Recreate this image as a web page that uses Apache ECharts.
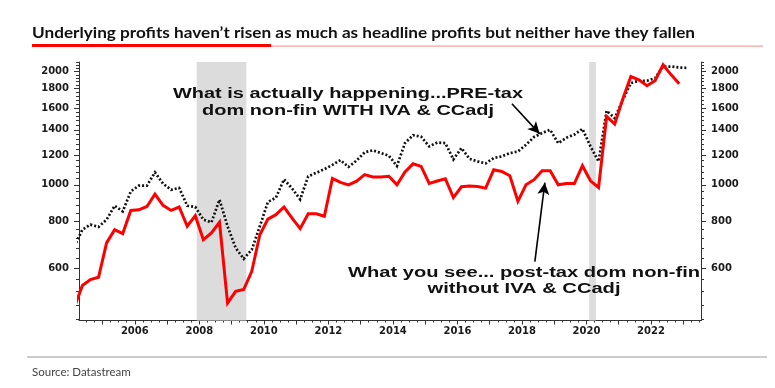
<!DOCTYPE html>
<html>
<head>
<meta charset="utf-8">
<script src="https://cdn.jsdelivr.net/npm/echarts@6.0.0/dist/echarts.min.js"></script>
<style>
html,body{margin:0;padding:0;background:#fff;}
#chart{width:775px;height:388px;}
</style>
</head>
<body>
<div id="chart"></div>
<script>
// ---------------- DATA ----------------
const quarters = [
  '2004Q1','2004Q2','2004Q3','2004Q4','2005Q1','2005Q2','2005Q3','2005Q4',
  '2006Q1','2006Q2','2006Q3','2006Q4','2007Q1','2007Q2','2007Q3','2007Q4',
  '2008Q1','2008Q2','2008Q3','2008Q4','2009Q1','2009Q2','2009Q3','2009Q4',
  '2010Q1','2010Q2','2010Q3','2010Q4','2011Q1','2011Q2','2011Q3','2011Q4',
  '2012Q1','2012Q2','2012Q3','2012Q4','2013Q1','2013Q2','2013Q3','2013Q4',
  '2014Q1','2014Q2','2014Q3','2014Q4','2015Q1','2015Q2','2015Q3','2015Q4',
  '2016Q1','2016Q2','2016Q3','2016Q4','2017Q1','2017Q2','2017Q3','2017Q4',
  '2018Q1','2018Q2','2018Q3','2018Q4','2019Q1','2019Q2','2019Q3','2019Q4',
  '2020Q1','2020Q2','2020Q3','2020Q4','2021Q1','2021Q2','2021Q3','2021Q4',
  '2022Q1','2022Q2','2022Q3','2022Q4','2023Q1'
];
// Pre-tax domestic non-financial profits WITH IVA & CCadj (dotted)
const preTax = [
  686, 760, 784, 773,   808, 880, 850, 960,
  995, 995, 1079, 1007, 970, 981, 880, 873,
  808, 795, 913, 776,   680, 636, 672, 776,
  900, 925, 1034, 978,  915, 1053, 1077, 1100,
  1130, 1163, 1116, 1160, 1220, 1235, 1215, 1195,
  1122, 1291, 1355, 1342, 1265, 1295, 1291, 1168,
  1252, 1172, 1154, 1140, 1178, 1190, 1214, 1226,
  1278, 1340, 1373, 1400, 1290, 1333, 1360, 1408,
  1265, 1154, 1573, 1504, 1680, 1863, 1890, 1890,
  1921, 2062, 2062, 2049, 2045
];
// Post-tax domestic non-financial profits without IVA & CCadj (red)
const postTax = [
  472, 540, 560, 568,   701, 760, 742, 855,
  858, 876, 945, 882,   855, 873, 776, 828,
  715, 745, 795, 485,   521, 527, 589, 737,
  811, 833, 873, 816,   765, 838, 838, 825,
  1040, 1015, 1000, 1023, 1064, 1049, 1049, 1054,
  1000, 1082, 1137, 1119, 1009, 1024, 1038, 925,
  988, 993, 990, 980,   1096, 1085, 1057, 904,
  1000, 1032, 1090, 1090, 1000, 1008, 1008, 1124,
  1025, 984, 1519, 1450, 1690, 1940, 1900, 1833,
  1890, 2084, 1960, 1855
];
const yTickLabels = [600, 800, 1000, 1200, 1400, 1600, 1800, 2000];
const xTickLabels = [2006, 2008, 2010, 2012, 2014, 2016, 2018, 2020, 2022];
const recessions = [['2007-12', '2009-06'], ['2020-02', '2020-04']];
const titleText = 'Underlying profits haven\u2019t risen as much as headline profits but neither have they fallen';
const sourceText = 'Source: Datastream';
const notePre = ['What is actually happening...PRE-tax', 'dom non-fin WITH IVA & CCadj'];
const notePost = ['What you see... post-tax dom non-fin', 'without IVA & CCadj'];

// ---------------- HELPERS ----------------
const qToYear = q => +q.slice(0, 4) + (+q.slice(5) - 0.5) / 4;      // mid-quarter
const mStart = s => +s.slice(0, 4) + (+s.slice(5) - 1) / 12;
const mMid = s => +s.slice(0, 4) + (+s.slice(5) - 0.5) / 12;

const yMin = 436, yMax = 2120;
const xMin = 2004.27, xMax = 2023.55;

const yMinor = [];
for (let v = 440; v <= 2120; v += 40) yMinor.push(Math.log(v));
const yMajor = yTickLabels.map(v => Math.log(v));
const xYearTicks = [];
for (let y = 2005; y <= 2023; y++) xYearTicks.push(y);
const xQuarterTicks = [];
for (let t = 2004.5; t <= 2023.5; t += 0.25) xQuarterTicks.push(t);

const cv = document.createElement('canvas').getContext('2d');
function textW(text, font) { cv.font = font; return cv.measureText(text).width; }

const titleFont = 'bold 15px Lato';
const titleScale = 663 / textW(titleText, titleFont);
const noteFont = 'bold 14px "Liberation Sans"';
const preScale = 350 / textW(notePre[0], noteFont);
const postScale = 352 / textW(notePost[0], noteFont);

const axisLabelStyle = {fontFamily: 'DejaVu Sans', fontWeight: 'bold', fontSize: 10, color: '#1a1a1a'};
const axisLineStyle = {color: '#333', width: 1};

function lnAxis(position, ticks, len, withLabels, withLine) {
  return {
    type: 'value', position, min: Math.log(yMin), max: Math.log(yMax),
    axisLine: {show: withLine, onZero: false, lineStyle: axisLineStyle},
    axisTick: {show: true, length: len, customValues: ticks, lineStyle: axisLineStyle},
    axisLabel: withLabels ? Object.assign({
      show: true, customValues: yMajor, margin: 10,
      formatter: v => String(Math.round(Math.exp(v)))
    }, axisLabelStyle) : {show: false},
    splitLine: {show: false}
  };
}

const noteText = (x, y, text, scale) => ({
  type: 'text', x, y, scaleX: scale, z: 100, zlevel: 0,
  style: {text, font: noteFont, fill: '#111', align: 'center', verticalAlign: 'middle'}
});

const option = {
  animation: false,
  backgroundColor: '#fff',
  grid: {left: 79, right: 74, top: 62, bottom: 67.5, containLabel: false},
  xAxis: [
    {
      type: 'value', min: xMin, max: xMax, position: 'bottom',
      axisLine: {show: true, onZero: false, lineStyle: axisLineStyle},
      axisTick: {show: true, length: 4, customValues: xYearTicks, lineStyle: axisLineStyle},
      axisLabel: Object.assign({customValues: xTickLabels, margin: 6, formatter: v => String(Math.round(v))}, axisLabelStyle),
      splitLine: {show: false}
    },
    {
      type: 'value', min: xMin, max: xMax, position: 'bottom',
      axisLine: {show: false},
      axisTick: {show: true, length: 2, customValues: xQuarterTicks, lineStyle: axisLineStyle},
      axisLabel: {show: false},
      splitLine: {show: false}
    }
  ],
  yAxis: [
    {type: 'log', logBase: 10, min: yMin, max: yMax, show: false, splitLine: {show: false}},
    lnAxis('left', yMajor, 5, true, true),
    lnAxis('right', yMajor, 5, true, true),
    lnAxis('left', yMinor, 3, false, false),
    lnAxis('right', yMinor, 3, false, false)
  ],
  graphic: [
    {type: 'text', x: 32, y: 33, scaleX: titleScale, z: 100,
     style: {text: titleText, font: titleFont, fill: '#111', verticalAlign: 'middle', align: 'left'}},
    {type: 'rect', z: 100, shape: {x: 32, y: 44, width: 239, height: 3}, style: {fill: '#ff0000'}},
    {type: 'rect', z: 100, shape: {x: 271, y: 45.5, width: 492, height: 1.2}, style: {fill: '#f4a0a0'}},
    {type: 'rect', z: 100, shape: {x: 27, y: 356.5, width: 740, height: 1}, style: {fill: '#9a9a9a'}},
    {type: 'text', x: 32, y: 372, z: 100,
     style: {text: sourceText, font: '11.5px Lato', fill: '#444', verticalAlign: 'middle', align: 'left'}},
    noteText(348, 94, notePre[0], preScale),
    noteText(348, 111, notePre[1], preScale),
    noteText(524, 273, notePost[0], postScale),
    noteText(524, 289, notePost[1], postScale)
  ],
  series: [
    {
      name: 'recessions', type: 'line', data: [], xAxisIndex: 0, yAxisIndex: 0, z: 1,
      markArea: {
        silent: true, itemStyle: {color: '#dcdcdc', opacity: 1},
        data: recessions.map(([a, b]) => [{xAxis: mStart(a)}, {xAxis: mMid(b)}])
      }
    },
    {
      name: 'Pre-tax WITH IVA & CCadj', type: 'line', xAxisIndex: 0, yAxisIndex: 0, z: 3,
      data: quarters.map((q, i) => [qToYear(q), preTax[i]]),
      symbol: 'none', clip: true,
      lineStyle: {color: '#111', width: 2.7, type: [2, 2], cap: 'butt', join: 'miter'}
    },
    {
      name: 'Post-tax without IVA & CCadj', type: 'line', xAxisIndex: 0, yAxisIndex: 0, z: 4,
      data: postTax.map((v, i) => [qToYear(quarters[i]), v]),
      symbol: 'none', clip: true,
      lineStyle: {color: '#ff0000', width: 3, join: 'miter'},
      markLine: {
        silent: true, symbol: ['none', 'arrow'], symbolSize: [9, 12],
        lineStyle: {color: '#000', width: 1.6, type: 'solid'},
        itemStyle: {color: '#000'},
        label: {show: false},
        data: [
          [{coord: [2017.69, 1642]}, {coord: [2018.55, 1366]}],
          [{coord: [2018.40, 625]}, {coord: [2018.71, 1013]}]
        ]
      }
    }
  ]
};

const chart = echarts.init(document.getElementById('chart'), null, {renderer: 'canvas'});
chart.setOption(option);
</script>
</body>
</html>
